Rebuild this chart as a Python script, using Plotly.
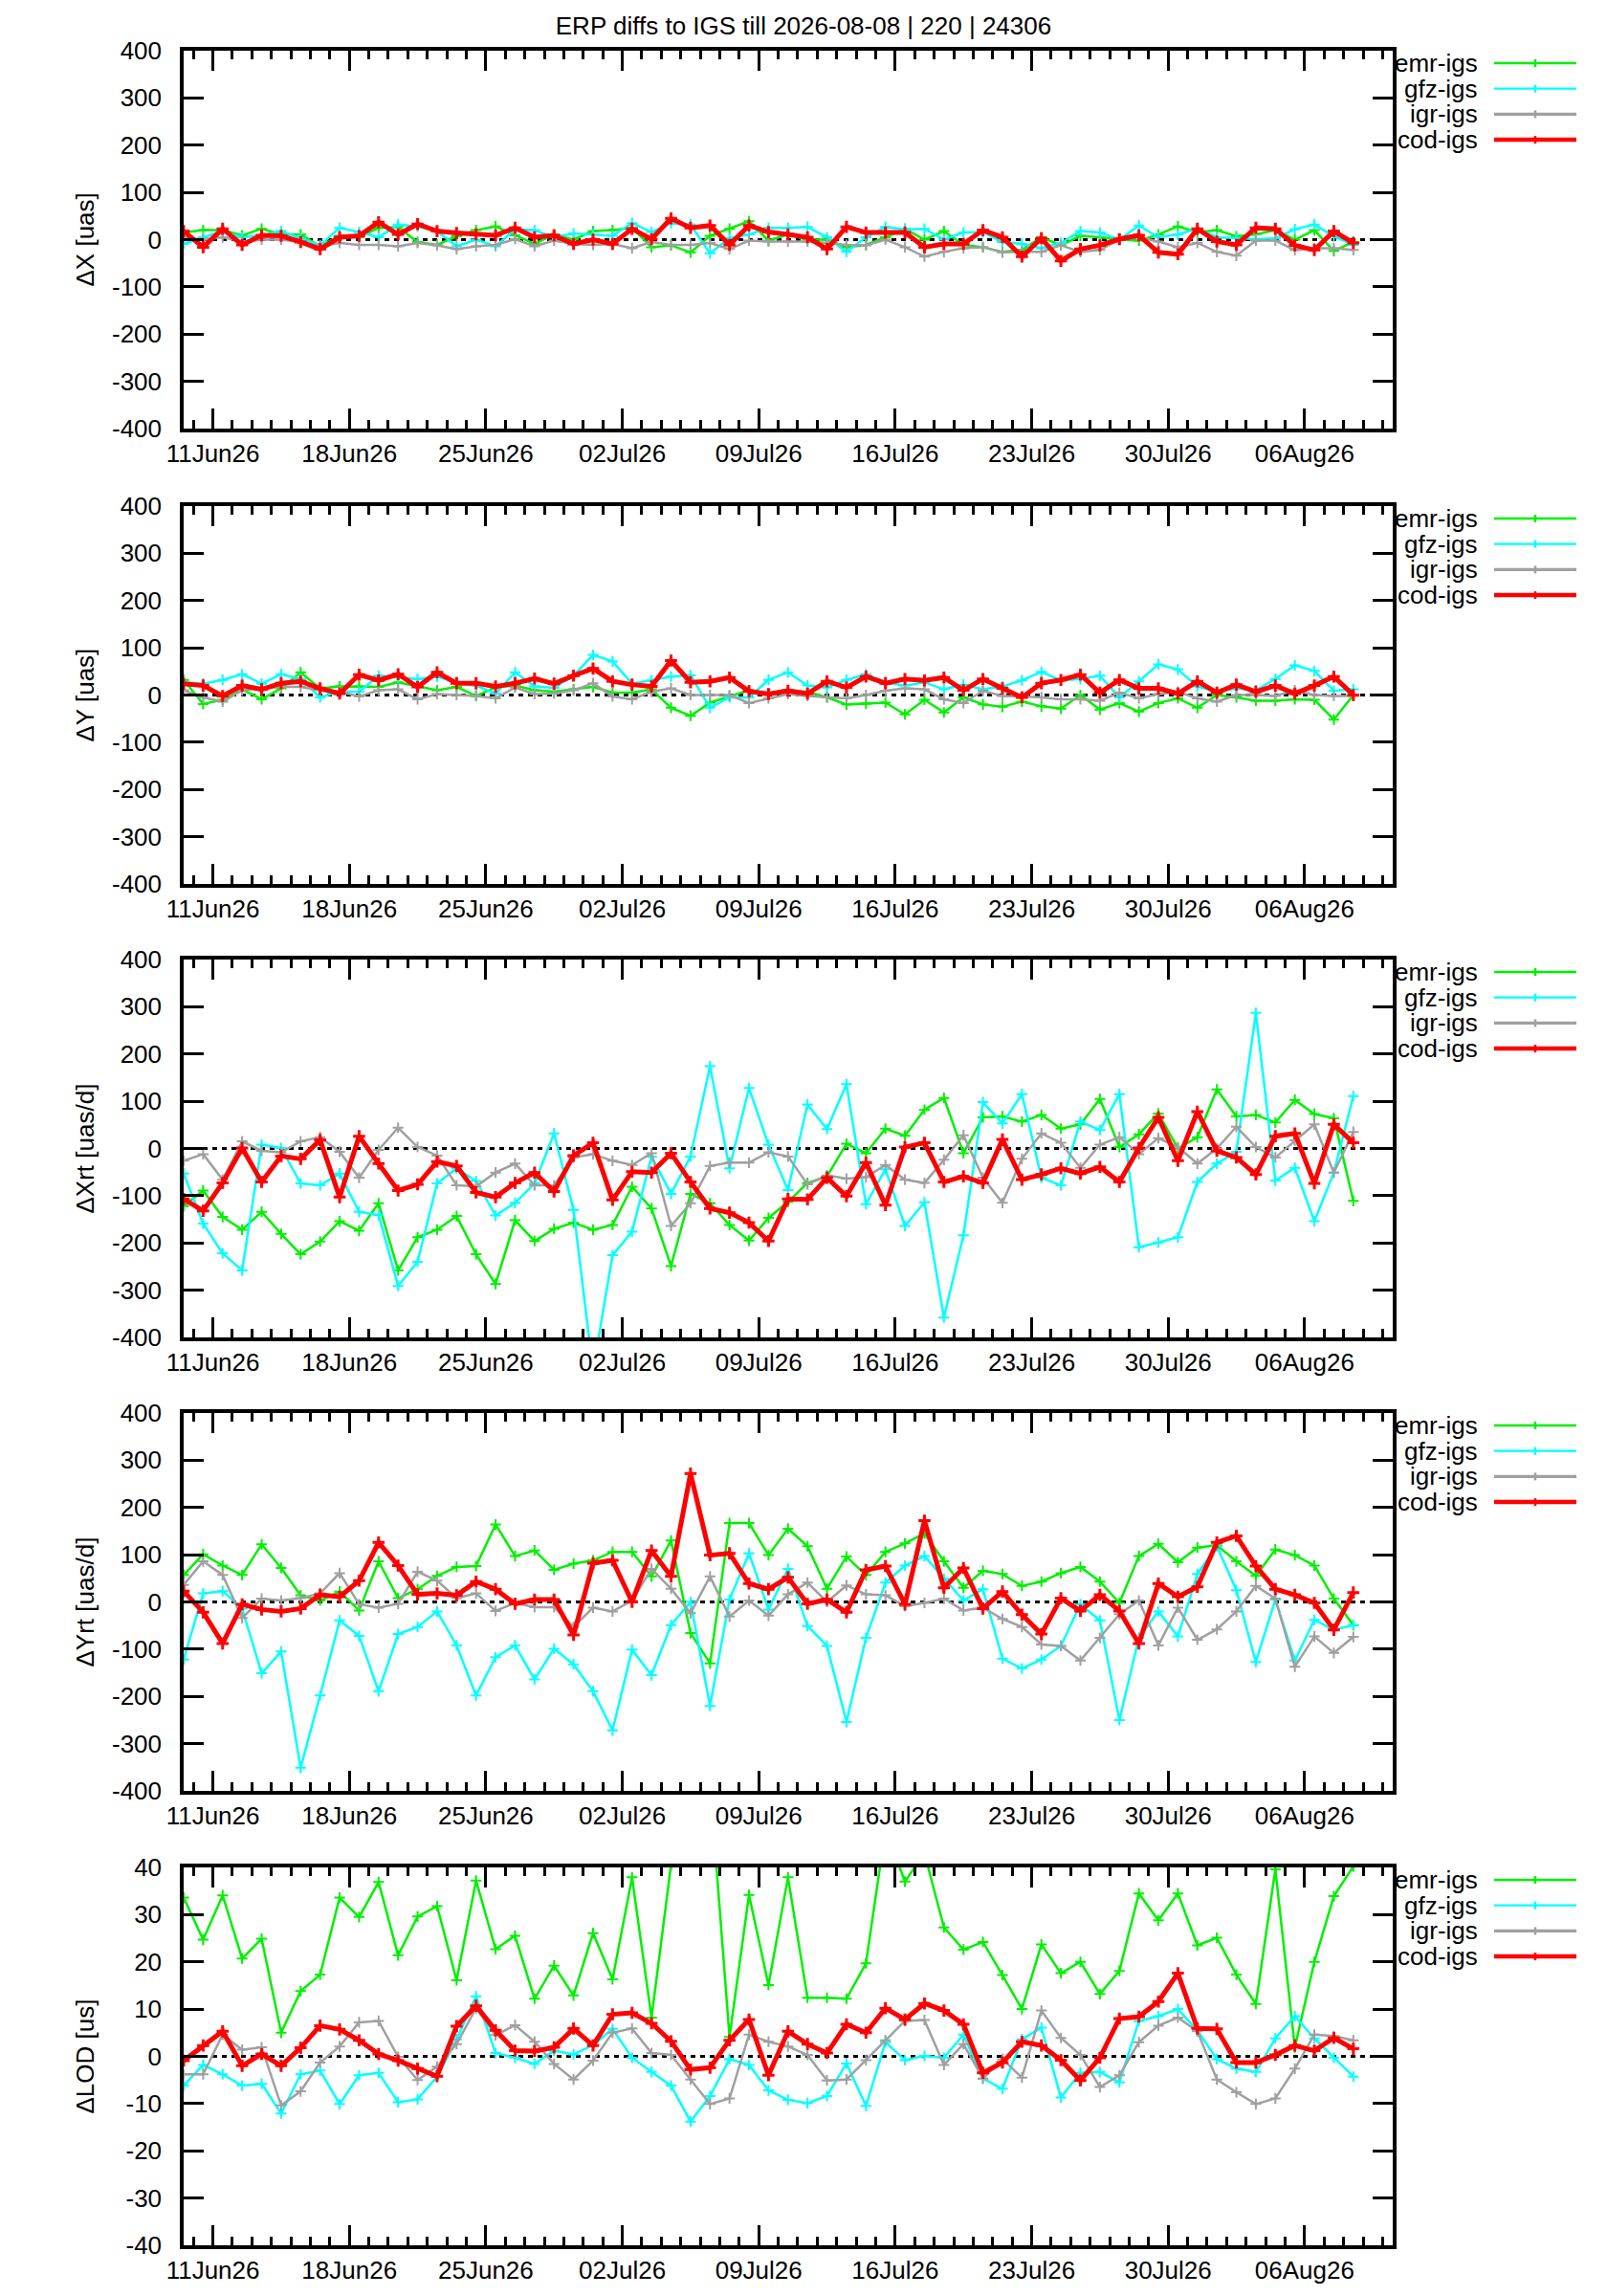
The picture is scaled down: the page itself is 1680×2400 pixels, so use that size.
import pandas as pd
import plotly.graph_objects as go

# daily solutions, plotted at noon
DATES = pd.date_range("2026-06-09 12:00", periods=61, freq="D")

SERIES = ["emr-igs", "gfz-igs", "igr-igs", "cod-igs"]
COLORS = ["#00f000", "#00ffff", "#a0a0a0", "#ff0000"]

TITLE = "ERP diffs to IGS till 2026-08-08 | 220 | 24306"
Y_TITLES = ["ΔX [uas]", "ΔY [uas]", "ΔXrt [uas/d]", "ΔYrt [uas/d]", "ΔLOD [us]"]
Y_TICKS_UAS = [-400, -300, -200, -100, 0, 100, 200, 300, 400]
Y_TICKS_LOD = [-40, -30, -20, -10, 0, 10, 20, 30, 40]

DX_EMR = [15, 20, 20, 9, 23, 11, 11, -14, 8, 5, 25, 27, -5, -11, 7, 20, 28, 9, -9, 11,
          0, 18, 20, 25, -16, -12, -27, 8, 23, 39, -2, 11,
          0, 0, -16, -11, 5, 23, 0, 18, -11, -16, -26, -22, 5, -12, 8, 5, 0, -2, 11, 28,
          16, 20, 7, 11, 20, 0, 20, -24, -5]
DX_GFZ = [-9, 5, 18, 5, 9, 18, 3, -12, 25, 16, 5, 32, 28, 18, -14, 0, -14, 22, 20, 5,
          13, 11, 8, 35, 16, 35, 32, -29, 3, 11, 25, 25,
          27, 5, -26, 5, 27, 22, 23, 0, 15, 16, -5, -9, -18, -7, 18, 15, 0, 30, 5, 11,
          23, 5, 3, 1, 3, 22, 32, 7, -11]
DX_IGR = [5, 0, 5, -4, 0, 0, -5, -14, -7, -11, -11, -14, -7, -12, -20, -14, -11, 1, -14, -2,
          -9, -11, -9, -18, -5, -11, -11, -7, -20, -2, -4, -4,
          -4, -7, -11, -12, 0, -16, -36, -26, -18, -16, -27, -26, -26, -12, -26, -22, 0, 5, -4, -16,
          -7, -26, -34, -2, -2, -22, -18, -18, -22]
DX_COD = [18, -16, 23, -11, 9, 8, -5, -20, 5, 8, 37, 11, 33, 18, 14, 11, 9, 25, 5, 9,
          -9, 0, -9, 23, 1, 45, 25, 30, -11, 30, 16, 11,
          5, -20, 27, 15, 15, 15, -16, -9, -9, 20, 5, -36, 3, -45, -20, -12, 1, 9, -27, -31,
          23, -4, -11, 25, 23, -12, -22, 18, -7]

DY_EMR = [32, -19, -10, 12, -9, 14, 48, 14, 18, 18, 17, 27, 18, 10, 17, -2, 16, 20, 10, 7,
          12, 17, 5, 5, 12, -27, -44, -16, -3, 10, 3, 7,
          7, -5, -20, -18, -16, -41, -10, -37, -5, -20, -25, -14, -24, -29, 0, -31, -17, -35, -17, -7,
          -27, 0, -5, -12, -12, -9, -10, -52, 0]
DY_GFZ = [27, 24, 32, 44, 24, 44, 34, -5, 7, 7, 41, 37, 34, 39, 27, 20, 3, 48, 18, 15,
          41, 85, 71, 24, 31, 39, 42, -27, -5, -5, 32, 48,
          20, 16, 32, 44, 27, 20, 27, 12, 22, 12, 18, 31, 49, 31, 34, 41, -5, 29, 65, 54,
          18, 7, 14, 10, 34, 63, 51, 9, 12]
DY_IGR = [10, -5, -14, 10, 14, 17, 17, 10, 7, -3, 10, 12, -9, 2, 0, -2, -7, 16, 2, 3,
          10, 25, -3, -9, 7, 14, 0, 0, 0, -17, -7, 2,
          -2, -5, -7, 0, 9, 14, 12, -9, -17, 9, -2, -3, -5, -9, -9, -12, 5, -7, 2, 7,
          -7, -14, 0, 0, -2, 10, 0, -2, -2]
DY_COD = [24, 20, -2, 20, 12, 25, 29, 14, 3, 43, 31, 44, 17, 48, 25, 25, 18, 25, 35, 24,
          41, 56, 29, 22, 18, 73, 27, 29, 37, 8, 2, 9,
          3, 29, 16, 39, 25, 34, 31, 37, 10, 34, 14, -5, 25, 32, 43, 5, 32, 14, 14, 3,
          29, 5, 22, 7, 20, 3, 20, 39, 0]

DXRT_EMR = [-122, -89, -145, -172, -134, -181, -224, -197, -154, -174, -116, -258, -188, -172,
            -143, -224, -287, -152, -196, -170, -157, -172, -162, -81, -127, -249, -96, -116,
            -162, -195, -147, -113,
            -73, -59, 10, -10, 42, 27, 82, 107, -10, 66, 68, 57, 71, 42, 51, 105, 3, 30, 74, 0,
            24, 125, 68, 71, 55, 103, 73, 64, -111]
DXRT_GFZ = [-53, -159, -222, -258, 8, 1, -74, -78, -53, -134, -141, -291, -240, -74, -42, -69,
            -142, -115, -74, 32, -130, -470, -226, -176, -17, -96, -17, 174, -42, 128, 8, -88,
            93, 41, 136, -118, -44, -164, -114, -358, -184, 98, 53, 115, -62, -78, 57, 39, 115,
            -209, -199, -188, -71, -32, -7, 287, -68, -41, -154, -51, 111]
DXRT_IGR = [-26, -12, -66, 15, -5, -8, 15, 24, -7, -62, -3, 44, 3, -15, -78, -80, -51, -32,
            -78, -78, -19, -12, -26, -35, -10, -164, -116, -37, -30, -30, -8, -17,
            -76, -57, -64, -61, -35, -66, -73, -24, 28, -62, -115, -22, 32, 12, -41, 8, 24, -12,
            22, 3, -32, 0, 46, 3, -19, 17, 51, -51, 35]
DXRT_COD = [-107, -132, -73, 1, -71, -16, -22, 18, -103, 26, -32, -89, -76, -28, -37, -93,
            -103, -73, -51, -91, -15, 12, -109, -49, -51, -10, -71, -127, -136, -157, -196, -107,
            -108, -62, -101, -30, -120, 3, 12, -71, -59, -73, 19, -66, -55, -42, -53, -39, -71,
            1, 66, -26, 78, -5, -19, -55, 26, 32, -74, 51, 12]

DYRT_EMR = [57, 101, 77, 57, 122, 72, 14, 3, 22, -18, 86, 8, 27, 55, 74, 76, 164, 97, 109, 68,
            81, 88, 106, 106, 54, 130, -66, -130, 167, 167, 99, 155,
            118, 28, 96, 57, 106, 124, 145, 86, 30, 66, 59, 34, 43, 61, 74, 43, -2, 97, 123, 84,
            115, 120, 86, 55, 111, 99, 77, 7, -49]
DYRT_GFZ = [-122, 18, 23, -14, -151, -105, -351, -198, -39, -72, -189, -68, -53, -20, -92, -198,
            -117, -92, -164, -99, -132, -189, -272, -101, -155, -49, 0, -220, 5, 103, -16, 70,
            -51, -93, -254, -76, 41, 77, 97, 49, 3, 27, -120, -141, -122, -93, -5, -39, -250,
            -76, -20, -73, 59, 118, 25, -127, 5, -124, -38, -59, -49]
DYRT_IGR = [36, 86, 57, -34, 7, 3, 8, 18, 61, -5, -12, -4, 64, 45, 8, 18, -19, -2, -11, -11,
            -53, -12, -20, 3, 70, 28, -24, 54, -31, 3, -29, 16,
            41, 0, 35, 16, 14, -9, -2, 7, -18, -12, -36, -53, -90, -93, -124, -76, -26, 3, -92,
            -12, -80, -58, -20, 34, 7, -137, -73, -108, -74]
DYRT_COD = [23, -22, -88, -5, -16, -20, -14, 15, 11, 45, 126, 77, 16, 18, 14, 43, 27, -4, 5, 5,
            -70, 82, 88, 0, 109, 54, 272, 99, 103, 39, 27, 52,
            -4, 5, -22, 68, 76, -5, 172, 30, 72, -14, 22, -27, -68, 8, -19, 15, -19, -88, 39, 11,
            32, 126, 140, 76, 27, 15, -2, -59, 20]

DLOD_EMR = [33.6, 24.7, 34.1, 20.7, 24.9, 5.0, 13.8, 17.3, 33.6, 29.5, 36.9, 21.4, 29.6, 31.8,
            16.1, 37.2, 22.7, 25.5, 12.2, 19.2, 12.9, 26.1, 16.3, 37.9, 8.2, 40.5, 52, 58, 4.1,
            34.2, 15.1, 37.9,
            12.4, 12.4, 12.2, 19.7, 48, 37.0, 43, 27.3, 22.6, 24.2, 17.2, 10.0, 23.7, 17.6, 20.0,
            13.2, 18.1, 34.5, 28.8, 34.5, 23.5, 25.1, 17.3, 11.1, 39.6, 1.9, 20.0, 33.9, 40.2]
DLOD_GFZ = [-6.2, -1.8, -3.8, -6.2, -5.8, -12.1, -3.8, -3.0, -10.1, -4.0, -3.5, -9.7, -9.1, -4.3,
            3.6, 12.7, 0.7, -0.3, -1.6, 1.2, 0.4, 2.4, 5.8, -0.3, -3.3, -6.2, -13.8, -8.4, -0.6,
            -1.8, -7.2, -9.2,
            -9.9, -8.4, -1.5, -10.5, 3.0, -0.8, 0.1, -0.3, 4.6, -4.7, -6.9, 3.6, 6.1, -8.7, -3.5,
            -3.3, -5.5, 7.5, 8.5, 10.0, 5.5, -0.6, -2.6, -3.3, 3.8, 8.5, 3.8, -0.3, -4.3]
DLOD_IGR = [-3.8, -3.8, 4.6, 1.4, 1.9, -10.4, -7.4, -1.3, 2.1, 7.2, 7.5, -0.1, -5.0, -2.2, 2.6,
            10.2, 4.5, 6.6, 3.1, -1.6, -4.9, -0.9, 5.0, 5.9, 0.7, 0.3, -4.9, -10.1, -8.9, 4.6,
            3.1, 2.1,
            0.3, -5.1, -4.9, -0.8, 3.4, 7.5, 7.7, -1.8, 2.6, -4.7, -0.6, -4.5, 9.7, 3.9, 0.3,
            -6.5, -4.0, 3.0, 6.5, 8.2, 5.3, -4.9, -7.6, -10.1, -8.9, -2.6, 4.6, 4.3, 3.4]
DLOD_COD = [-0.9, 2.3, 5.3, -2.0, 0.5, -2.0, 1.8, 6.5, 5.7, 3.4, 0.5, -0.9, -2.6, -4.2, 6.4,
            10.7, 5.5, 1.2, 1.1, 1.9, 5.9, 2.3, 8.9, 9.2, 7.0, 3.2, -2.8, -2.4, 3.4, 7.8, -4.0,
            5.3,
            2.6, 0.7, 6.8, 5.0, 10.2, 7.8, 11.2, 9.7, 6.8, -3.5, -1.3, 3.1, 2.3, -0.8, -5.1,
            -0.3, 8.0, 8.4, 11.6, 17.6, 5.9, 5.8, -1.3, -1.3, 0.3, 2.3, 1.2, 3.9, 1.6]

PANELS = [
    [DX_EMR, DX_GFZ, DX_IGR, DX_COD],
    [DY_EMR, DY_GFZ, DY_IGR, DY_COD],
    [DXRT_EMR, DXRT_GFZ, DXRT_IGR, DXRT_COD],
    [DYRT_EMR, DYRT_GFZ, DYRT_IGR, DYRT_COD],
    [DLOD_EMR, DLOD_GFZ, DLOD_IGR, DLOD_COD],
]

# page geometry (pixels)
W, H = 1680, 2400
X0, X1 = 192, 1456
TOPS = [53, 529, 1003, 1477, 1952]
PH = 395
FONT = "Liberation Sans, Arial, Helvetica, sans-serif"
LINE_W = [2.5, 2.5, 2.5, 5]
KEY_W = [2.7, 2.3, 3.2, 4.5]
DAY_MS = 86400000


def px(x):
    return x / W


def py(y):
    return 1 - y / H


fig = go.Figure()
shapes = []
annotations = []

for p, data in enumerate(PANELS):
    n = p + 1
    xa = "x" if n == 1 else f"x{n}"
    ya = "y" if n == 1 else f"y{n}"
    for k, vals in enumerate(data):
        fig.add_trace(go.Scatter(
            x=DATES, y=vals, mode="lines+markers", name=SERIES[k],
            xaxis=xa, yaxis=ya, showlegend=False, cliponaxis=True,
            line=dict(color=COLORS[k], width=LINE_W[k]),
            marker=dict(symbol="cross-thin", size=9 if k == 3 else 8,
                        color=COLORS[k],
                        line=dict(color=COLORS[k], width=3 if k == 3 else 2)),
        ))

    top = TOPS[p]
    ticks = Y_TICKS_LOD if p == 4 else Y_TICKS_UAS
    axis_common = dict(
        showline=True, linecolor="black", linewidth=3.5, mirror="allticks",
        ticks="inside", ticklen=21, tickwidth=3, tickcolor="black",
        showgrid=False, zeroline=False, automargin=False,
        tickfont=dict(family=FONT, size=26, color="black"),
    )
    fig.layout[f"xaxis{n if n > 1 else ''}"] = dict(
        axis_common, domain=[px(X0), px(X1)], anchor=ya, type="date",
        range=["2026-06-09 12:00", "2026-08-10 12:30"],
        tick0="2026-06-11", dtick=7 * DAY_MS, tickformat="%d%b%y",
        ticklabelstandoff=0,
        minor=dict(dtick=DAY_MS, tick0="2026-06-11", ticks="inside", ticklen=9,
                   tickwidth=2.5, tickcolor="black", showgrid=False),
    )
    fig.layout[f"yaxis{n if n > 1 else ''}"] = dict(
        axis_common, domain=[py(top + PH), py(top)], anchor=xa,
        range=[ticks[0], ticks[-1]], tickmode="array",
        tickvals=ticks, ticktext=[str(v) for v in ticks],
        ticklabelstandoff=14,
    )

    # y axis title
    annotations.append(dict(
        xref="paper", yref="paper", x=px(88), y=py(top + PH / 2), xanchor="center",
        yanchor="middle", showarrow=False, text=Y_TITLES[p], textangle=-90,
        font=dict(family=FONT, size=26, color="black"),
    ))

    # dotted zero line
    shapes.append(dict(type="line", xref=f"{xa} domain", yref=ya, x0=0, x1=1, y0=0, y1=0,
                       line=dict(color="black", width=3, dash="5px,5px"), layer="below"))

    # gnuplot-style key: label on the left, sample on the right
    for k, name in enumerate(SERIES):
        yk = top + 13 + 26.7 * k
        annotations.append(dict(
            xref="paper", yref="paper", x=px(1547), y=py(yk), xanchor="right",
            yanchor="middle", showarrow=False, text=name,
            font=dict(family=FONT, size=26, color="black"),
        ))
        shapes.append(dict(type="line", xref="paper", yref="paper",
                           x0=px(1562), x1=px(1648), y0=py(yk), y1=py(yk),
                           line=dict(color=COLORS[k], width=KEY_W[k])))
        shapes.append(dict(type="line", xref="paper", yref="paper",
                           x0=px(1605), x1=px(1605), y0=py(yk - 4), y1=py(yk + 4),
                           line=dict(color=COLORS[k], width=2.5)))

fig.update_layout(
    width=W, height=H,
    margin=dict(l=0, r=0, t=0, b=0, autoexpand=False),
    paper_bgcolor="white", plot_bgcolor="white",
    font=dict(family=FONT, size=26, color="black"),
    title=dict(text=TITLE, x=0.5, xanchor="center", y=py(27), yanchor="middle",
               font=dict(family=FONT, size=26, color="black"), automargin=False),
    shapes=shapes,
    annotations=annotations,
    showlegend=False,
    hovermode=False,
)

# drop the browser's default body margin so the page matches pixel for pixel
fig.write_html("out.html", config={"displayModeBar": False},
               post_script="document.body.style.margin='0px';")
